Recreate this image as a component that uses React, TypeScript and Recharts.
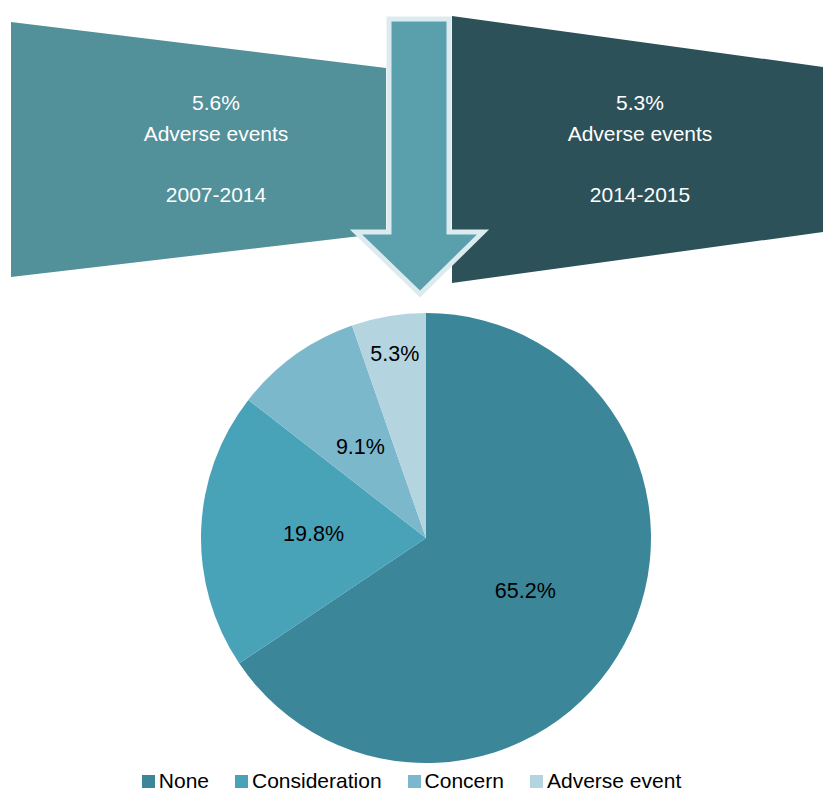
import React from 'react'
import { PieChart, Pie, Cell, Legend } from 'recharts'

const categories = ['None', 'Consideration', 'Concern', 'Adverse event']
const shares = [65.2, 19.8, 9.1, 5.3]
const sliceColors = ['#3b8799', '#48a2b8', '#7cb8cc', '#b4d4e0']

const periods = ['2007-2014', '2014-2015']
const periodRates = ['5.6%', '5.3%']

const data = categories.map((name, i) => ({ name, value: shares[i] }))

const FONT = '"Liberation Sans", Arial, sans-serif'
const RAD = Math.PI / 180

const renderLabel = (props: any) => {
  const { cx, cy, midAngle, outerRadius, value } = props
  const r = outerRadius * (value < 6 ? 0.83 : 0.5)
  const x = cx + r * Math.cos(-midAngle * RAD)
  const y = cy + r * Math.sin(-midAngle * RAD)
  return (
    <text x={x} y={y} fill="#000" fontSize={21.5} fontFamily={FONT} textAnchor="middle" dominantBaseline="central">
      {`${value.toFixed(1)}%`}
    </text>
  )
}

const LegendContent = () => (
  <div style={{ display: 'flex', justifyContent: 'center', gap: 26, fontFamily: FONT, fontSize: 21, color: '#000' }}>
    {categories.map((c, i) => (
      <span key={c} style={{ display: 'flex', alignItems: 'center' }}>
        <span style={{ width: 13, height: 13, background: sliceColors[i], marginRight: 4, display: 'inline-block' }} />
        {c}
      </span>
    ))}
  </div>
)

function Banner() {
  const textBlock = (cx: number, i: number) => (
    <g fill="#fff" fontSize={21} fontFamily={FONT} textAnchor="middle">
      <text x={cx} y={110}>{periodRates[i]}</text>
      <text x={cx} y={141}>Adverse events</text>
      <text x={cx} y={202}>{periods[i]}</text>
    </g>
  )
  return (
    <svg width={823} height={300} style={{ position: 'absolute', left: 0, top: 0 }}>
      <polygon points="11,22 386,68 386,233 11,277" fill="#52909a" />
      <polygon points="452,16 823,67 823,232 452,283" fill="#2c5159" />
      <polygon
        points="389,19 449,19 449,232 483,232 420,294 356,232 389,232"
        fill="#5aa0ac"
        stroke="#dcebef"
        strokeWidth={5}
        strokeLinejoin="miter"
      />
      {textBlock(216, 0)}
      {textBlock(640, 1)}
    </svg>
  )
}

export default function App() {
  return (
    <div style={{ position: 'absolute', left: 0, top: 0, width: 823, height: 791, background: '#fff' }}>
      <PieChart width={823} height={791} margin={{ top: 0, right: 0, bottom: 0, left: 0 }}>
        <Pie
          data={data}
          dataKey="value"
          nameKey="name"
          cx={426}
          cy={538}
          outerRadius={225}
          startAngle={90}
          endAngle={-270}
          stroke="none"
          label={renderLabel}
          labelLine={false}
          isAnimationActive={false}
        >
          {data.map((d, i) => (
            <Cell key={d.name} fill={sliceColors[i]} />
          ))}
        </Pie>
        <Legend content={<LegendContent />} verticalAlign="bottom" wrapperStyle={{ bottom: -2 }} />
      </PieChart>
      <Banner />
    </div>
  )
}
